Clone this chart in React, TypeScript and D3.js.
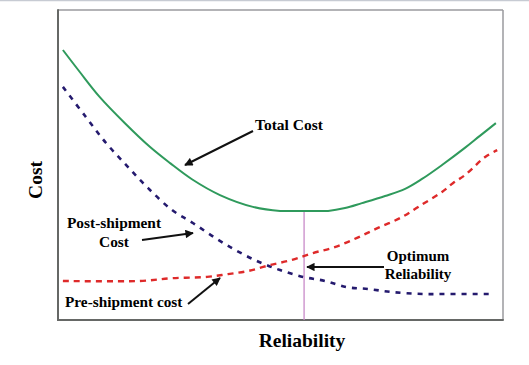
import React from "react";
import * as d3 from "d3";

// Reliability (x, 0-100) vs cost (y, 0-100)
const totalX = [1.1, 4.9, 9.4, 15.1, 20.7, 25.2, 30.1, 36.4, 43.8, 49.9, 55.3, 60.7, 64.5, 68.3, 73.5, 78.0, 81.8, 86.3, 91.5, 94.8, 98.4];
const totalY = [87.1, 80.0, 71.9, 63.4, 55.8, 50.6, 45.4, 40.3, 36.5, 35.2, 35.2, 35.2, 36.1, 37.7, 40.0, 42.3, 45.5, 50.0, 55.6, 59.4, 63.5];

const postX = [1.1, 6.1, 10.8, 15.7, 20.2, 25.6, 30.3, 35.3, 40.2, 45.2, 49.9, 55.1, 60.0, 64.9, 69.7, 75.1, 82.0, 89.2, 97.1];
const postY = [75.2, 65.8, 57.1, 49.4, 42.6, 35.5, 31.3, 26.5, 22.3, 18.7, 16.1, 13.9, 12.6, 10.6, 10.0, 9.0, 8.4, 8.4, 8.4];

const preX = [1.1, 18.4, 25.8, 33.5, 38.2, 42.7, 47.6, 52.6, 57.3, 62.2, 67.2, 71.9, 76.9, 81.3, 86.3, 88.8, 91.5, 96.0, 98.7];
const preY = [12.6, 12.6, 13.5, 13.9, 14.8, 15.8, 17.7, 19.4, 21.6, 23.5, 26.5, 29.7, 32.9, 36.8, 41.3, 44.2, 46.8, 52.6, 54.8];

const optimumX = 55.3;
const optimumCost = 35.2;

const xLabel = "Reliability";
const yLabel = "Cost";
const totalLabel = "Total Cost";
const postLabel = ["Post-shipment", "Cost"];
const preLabel = "Pre-shipment cost";
const optLabel = ["Optimum", "Reliability"];

export default function App() {
  const W = 529, H = 365;
  const left = 58, right = 503, top = 10, bottom = 320;
  const x = d3.scaleLinear().domain([0, 100]).range([left, right]);
  const y = d3.scaleLinear().domain([0, 100]).range([bottom, top]);
  const line = d3
    .line<[number, number]>()
    .x((d) => x(d[0]))
    .y((d) => y(d[1]))
    .curve(d3.curveCatmullRom.alpha(0.5));
  const zip = (a: number[], b: number[]) => a.map((v, i) => [v, b[i]] as [number, number]);
  const font = "'Liberation Serif', 'Times New Roman', serif";

  return (
    <svg width={W} height={H} style={{ position: "absolute", left: 0, top: 0 }}>
      <defs>
        <marker id="ah" viewBox="0 0 10 10" refX="9" refY="5" markerWidth="5" markerHeight="4.2" orient="auto" markerUnits="strokeWidth">
          <path d="M0,0 L10,5 L0,10 z" fill="#111" />
        </marker>
      </defs>
      <rect x={0} y={0} width={W} height={H} fill="#fff" />
      <line x1={0} x2={W} y1={0.5} y2={0.5} stroke="#c7cbd3" strokeWidth={1.5} />
      {/* frame */}
      <line x1={left} x2={right} y1={top} y2={top} stroke="#9a9a9e" strokeWidth={1.5} />
      <line x1={right} x2={right} y1={top} y2={bottom} stroke="#9a9a9e" strokeWidth={1.5} />
      <line x1={left} x2={left} y1={top - 0.75} y2={bottom + 1} stroke="#666866" strokeWidth={2} />
      <line x1={left - 1} x2={right + 0.75} y1={bottom} y2={bottom} stroke="#666866" strokeWidth={2} />

      {/* optimum vertical */}
      <line x1={x(optimumX)} x2={x(optimumX)} y1={y(optimumCost)} y2={bottom} stroke="#c98ac9" strokeWidth={1.3} />

      <path d={line(zip(totalX, totalY)) || ""} fill="none" stroke="#2f9a5c" strokeWidth={2} />
      <path d={line(zip(postX, postY)) || ""} fill="none" stroke="#241a6e" strokeWidth={2.6} strokeDasharray="5,6" />
      <path d={line(zip(preX, preY)) || ""} fill="none" stroke="#de2a2a" strokeWidth={2.4} strokeDasharray="6,5" />

      {/* arrows */}
      <g stroke="#111" strokeWidth={2} markerEnd="url(#ah)">
        <line x1={253} y1={131} x2={185} y2={165} />
        <line x1={142} y1={240} x2={193} y2={233} />
        <line x1={188} y1={304} x2={220} y2={278} />
        <line x1={384} y1={267} x2={307} y2={267} />
      </g>

      <g fontFamily={font} fontWeight="bold" fill="#000">
        <text x={255} y={130} fontSize={15.5}>{totalLabel}</text>
        <text x={114} y={228} fontSize={15.4} textAnchor="middle">{postLabel[0]}</text>
        <text x={114} y={247} fontSize={15.4} textAnchor="middle">{postLabel[1]}</text>
        <text x={65} y={307} fontSize={15.3}>{preLabel}</text>
        <text x={418} y={261} fontSize={15} textAnchor="middle">{optLabel[0]}</text>
        <text x={418} y={279} fontSize={15} textAnchor="middle">{optLabel[1]}</text>
        <text x={302} y={347} fontSize={19.5} textAnchor="middle">{xLabel}</text>
        <text transform="translate(42,180) rotate(-90)" fontSize={19.5} textAnchor="middle">{yLabel}</text>
      </g>
    </svg>
  );
}
